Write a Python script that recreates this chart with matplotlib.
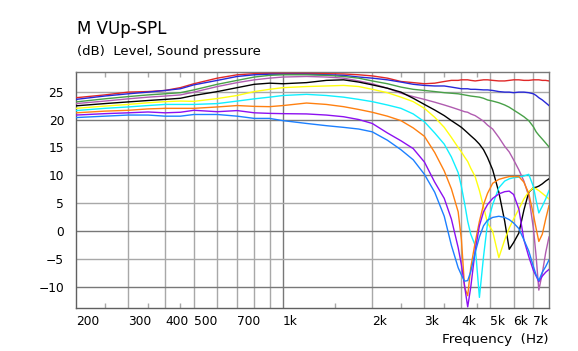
# off-axis SPL curves, M VUp
import numpy as np
import matplotlib
matplotlib.use('Agg')
import matplotlib.pyplot as plt

# frequency grid (Hz)
freq = [200, 250, 300, 350, 400, 450, 500, 600, 700, 800,
        900, 1000, 1200, 1400, 1600, 1800, 2000, 2250, 2500, 2750,
        3000, 3250, 3500, 3700, 3900, 4000, 4100, 4200, 4300, 4450,
        4600, 4750, 4900, 5100, 5350, 5600, 5800, 6000, 6250, 6500,
        6750, 7000, 7150, 7300, 7500, 7700, 7900]

# levels in dB, one list per curve
spl_red = [23.9, 24.4, 24.9, 25.0, 25.2, 25.7, 26.4, 27.4, 28.0, 28.2,
           28.25, 28.25, 28.25, 28.2, 28.15, 28.0, 27.8, 27.4, 26.8, 26.6,
           26.4, 26.5, 26.8, 27.0, 27.0, 27.1, 27.1, 27.1, 27.0, 26.9,
           27.0, 27.1, 27.1, 27.0, 26.9, 26.9, 27.0, 27.1, 27.1, 27.0,
           27.0, 27.1, 27.1, 27.1, 27.0, 27.0, 26.9]
spl_blue = [23.6, 24.2, 24.6, 24.9, 25.2, 25.5, 26.2, 27.0, 27.7, 28.0,
            28.1, 28.1, 28.1, 28.0, 27.9, 27.6, 27.4, 27.1, 26.7, 26.3,
            26.1, 26.0, 26.0, 25.8, 25.6, 25.5, 25.5, 25.5, 25.4, 25.4,
            25.35, 25.3, 25.3, 25.2, 25.0, 24.9, 24.9, 24.8, 24.9, 24.9,
            24.8, 24.6, 24.3, 23.9, 23.5, 23.0, 22.5]
spl_green = [23.15, 23.7, 24.1, 24.4, 24.6, 24.8, 25.3, 26.3, 27.0, 27.6,
             27.9, 28.0, 28.0, 27.9, 27.7, 27.4, 26.9, 26.4, 25.8, 25.4,
             25.2, 25.0, 24.8, 24.7, 24.6, 24.5, 24.4, 24.3, 24.2, 24.1,
             24.0, 23.8, 23.5, 23.3, 23.0, 22.6, 22.2, 21.7, 21.1, 20.5,
             19.8, 18.7, 17.8, 17.2, 16.5, 15.8, 15.1]
spl_orchid = [22.85, 23.3, 23.7, 24.0, 24.2, 24.4, 24.9, 25.9, 26.6, 27.1,
              27.4, 27.6, 27.7, 27.6, 27.4, 26.9, 26.4, 25.6, 24.7, 24.1,
              23.6, 23.1, 22.6, 22.2, 21.8, 21.6, 21.4, 21.3, 21.0, 20.7,
              20.2, 19.7, 19.0, 18.3, 16.8, 15.2, 14.2, 12.8, 11.0, 9.0,
              6.3, 0.5, -4.5, -10.5, -7.5, -3.8, -1.0]
spl_black = [22.45, 22.85, 23.15, 23.4, 23.6, 23.8, 24.3, 25.0, 25.7, 26.3,
             26.5, 26.4, 26.6, 27.0, 27.1, 26.7, 26.2, 25.6, 24.9, 23.8,
             22.7, 21.7, 20.7, 19.8, 19.0, 18.6, 18.1, 17.6, 17.1, 16.4,
             15.6, 14.6, 13.2, 11.0, 7.0, 1.8, -3.2, -2.0, -0.3, 3.8,
             7.0, 7.8, 7.9, 8.1, 8.5, 9.0, 9.4]
spl_yellow = [22.0, 22.4, 22.7, 23.0, 23.2, 23.3, 23.25, 23.75, 24.3, 25.0,
              25.4, 25.7, 25.9, 26.0, 26.1, 25.9, 25.4, 24.8, 24.0, 23.2,
              22.0, 20.4, 18.6, 16.8, 15.0, 14.2, 13.3, 12.5, 11.3, 9.8,
              7.3, 4.4, 1.5, 0.0, -4.7, -1.5, 0.6, 2.2, 4.0, 5.8,
              7.1, 7.8, 7.6, 7.3, 6.8, 6.3, 5.8]
spl_cyan = [21.6, 22.0, 22.25, 22.5, 22.7, 22.7, 22.7, 22.85, 23.3, 23.7,
            24.0, 24.3, 24.5, 24.3, 24.0, 23.6, 23.2, 22.6, 22.0, 21.0,
            19.6, 17.6, 15.6, 13.3, 10.5, 8.0, 5.0, 1.8, -0.5, -2.5,
            -11.8, -4.5, 1.5, 4.8, 7.8, 9.0, 9.4, 9.6, 9.7, 9.9,
            10.2, 8.0, 5.5, 3.3, 4.5, 5.8, 7.3]
spl_orange = [21.2, 21.5, 21.65, 21.9, 22.0, 22.0, 22.0, 22.25, 22.5, 22.35,
              22.3, 22.5, 22.95, 22.7, 22.3, 21.8, 21.3, 20.6, 19.8, 18.5,
              17.0, 14.1, 10.8, 7.6, 3.5, -1.5, -10.0, -11.5, -6.5, -2.0,
              1.8, 4.8, 6.8, 8.6, 9.3, 9.6, 9.8, 9.8, 9.8, 8.8,
              6.8, 3.0, 0.5, -1.8, -0.5, 2.2, 4.6]
spl_violet = [20.8, 21.05, 21.2, 21.35, 21.2, 21.3, 21.65, 21.4, 21.6, 21.2,
              21.1, 21.05, 21.0, 20.8, 20.5, 20.0, 19.3, 17.6, 16.2, 14.8,
              12.4, 8.8, 5.9, 2.2, -2.9, -6.0, -9.8, -13.5, -10.0, -3.5,
              1.0, 3.5, 4.8, 5.9, 6.7, 7.1, 7.2, 6.6, 4.0, -1.5,
              -4.5, -7.0, -8.0, -9.0, -8.0, -7.3, -6.8]
spl_azure = [20.35, 20.6, 20.8, 20.8, 20.6, 20.6, 20.9, 20.9, 20.6, 20.2,
             20.2, 19.8, 19.3, 18.9, 18.6, 18.3, 17.8, 16.3, 14.6, 12.8,
             10.2, 7.0, 2.7, -2.5, -6.5, -7.8, -8.9, -8.8, -7.2, -3.8,
             -1.0, 1.0, 2.0, 2.5, 2.7, 2.5, 2.1, 1.5, 0.5, -1.5,
             -3.5, -6.3, -7.8, -8.8, -7.3, -6.3, -5.1]

curves = [(spl_red, '#e02828'), (spl_blue, '#2828d8'), (spl_green, '#48a048'),
          (spl_orchid, '#b05cb0'), (spl_black, '#000000'), (spl_yellow, '#ffff10'),
          (spl_cyan, '#10f0ff'), (spl_orange, '#ff8010'), (spl_violet, '#8c10f0'),
          (spl_azure, '#1c80ff')]

xtick_vals = [200, 300, 400, 500, 700, 1000, 2000, 3000, 4000, 5000, 6000, 7000]
xtick_text = ['200', '300', '400', '500', '700', '1k', '2k', '3k', '4k', '5k', '6k', '7k']
ytick_vals = [-10, -5, 0, 5, 10, 15, 20, 25]

plt.rcParams['font.family'] = 'DejaVu Sans'
fig = plt.figure(figsize=(5.78, 3.51), dpi=100)
ax = fig.add_axes([0.1315, 0.1225, 0.8183, 0.6724])

light = '#a8a8a8'
dark = '#787878'
for f in [300, 400, 500, 600, 700, 800, 900, 2000, 3000, 4000, 5000, 6000, 7000]:
    ax.axvline(f, color=light, lw=1.0, zorder=1)
ax.axvline(1000, color=dark, lw=1.0, zorder=1)
for v in ytick_vals:
    ax.axhline(v, color=dark if v % 10 == 0 else light, lw=1.0, zorder=1)

for vals, col in curves:
    ax.plot(freq, vals, color=col, lw=1.0, zorder=3)

ax.set_xscale('log')
ax.set_xlim(200, 7900)
ax.set_ylim(-13.7, 28.5)

ax.set_xticks(xtick_vals)
ax.set_xticklabels(xtick_text, ha='left')
ax.set_xticks([250, 350, 450, 1500, 2500, 3500, 4500], minor=True)
ax.xaxis.set_minor_formatter(matplotlib.ticker.NullFormatter())
ax.tick_params(axis='x', which='major', length=0, pad=5, labelsize=8.8)
ax.tick_params(axis='x', which='minor', direction='in', length=3.5,
               top=True, bottom=True, color=light, width=1.0)
ax.set_yticks(ytick_vals)
ax.tick_params(axis='y', which='major', length=0, pad=8.5, labelsize=8.8)
ax.tick_params(axis='y', which='minor', left=False)

for s in ax.spines.values():
    s.set_color(dark)
    s.set_linewidth(1.0)
ax.spines['left'].set_color('#606060')
ax.spines['bottom'].set_color('#606060')

fig.text(0.1332, 0.9023, 'M VUp-SPL', fontsize=12, va='baseline', ha='left')
fig.text(0.1332, 0.8433, '(dB)  Level, Sound pressure', fontsize=9.5,
         va='baseline', ha='left')
fig.text(0.9487, 0.0236, 'Frequency  (Hz)', fontsize=9.7, va='baseline', ha='right')

fig.savefig('out.png', dpi=100)
